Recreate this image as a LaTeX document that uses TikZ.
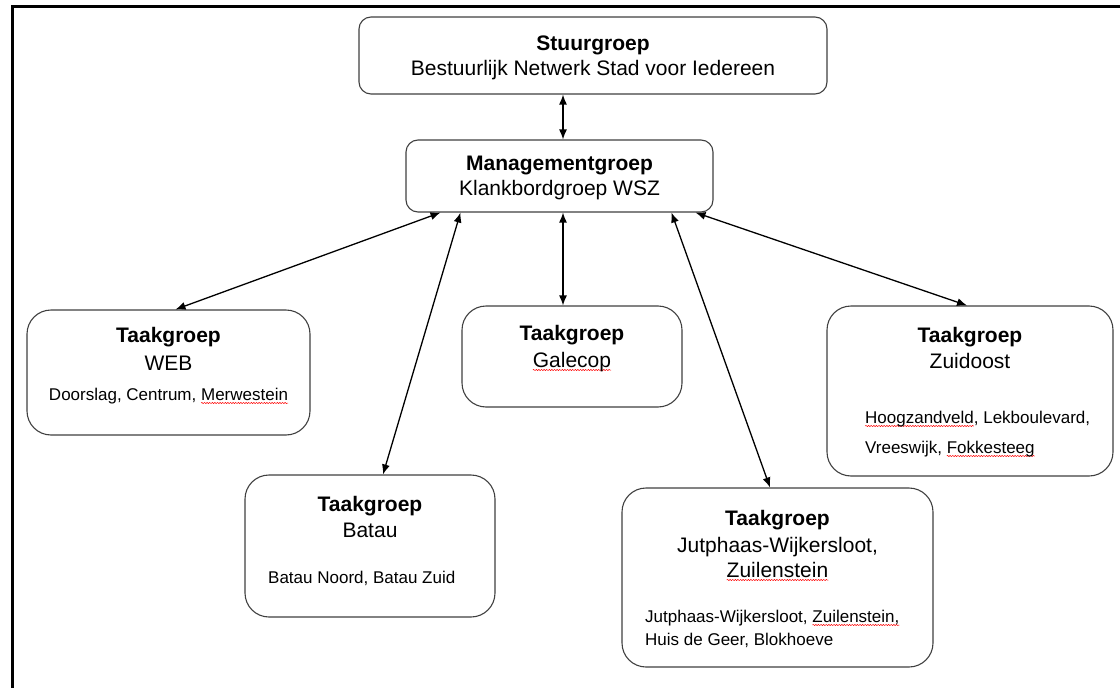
\documentclass[tikz,border=0pt]{standalone}
\usepackage{fontspec}
\setmainfont{Liberation Sans}
\usetikzlibrary{arrows.meta,decorations.pathmorphing}

% red spell-check squiggle under a word
\newsavebox\spellbox
\newlength\spellwd
\newcommand{\spell}[1]{\sbox\spellbox{#1}\setlength\spellwd{\wd\spellbox}%
  \rlap{\tikz[overlay]\draw[red, line width=0.5pt, decorate,
    decoration={snake, amplitude=0.6pt, segment length=2.6pt}] (0pt,-3pt) -- (\spellwd,-3pt);}%
  \usebox\spellbox}

\tikzset{
  box/.style={draw=black!75, line width=1.1pt, rounded corners=#1, fill=white},
  big/.style={font=\fontsize{21}{26}\selectfont, inner sep=0pt},
  head/.style={font=\fontsize{21}{26}\selectfont\bfseries, inner sep=0pt},
  small/.style={font=\fontsize{17}{20}\selectfont, inner sep=0pt},
  link/.style={{Latex[length=10pt,width=8pt]}-{Latex[length=10pt,width=8pt]}, line width=1.3pt},
}

\begin{document}
\begin{tikzpicture}[x=1pt, y=-1pt]
		\useasboundingbox (0,0) rectangle (1120,688);
		%%%%% frame %%%%%
		\draw[line width=2.8pt] (1120,6.5) -- (12.5,6.5) -- (12.5,688);
		
		%%%%% boxes %%%%%
		\node[box=12pt, minimum width=468pt, minimum height=77pt] (stuur) at (593,55.5) {};
		\node[box=12pt, minimum width=307pt, minimum height=72pt] (mgmt) at (559.5,176) {};
		\node[box=24pt, minimum width=283pt, minimum height=125pt] (web) at (168.5,372.5) {};
		\node[box=24pt, minimum width=220pt, minimum height=101pt] (galecop) at (572,356.5) {};
		\node[box=24pt, minimum width=286pt, minimum height=170pt] (zuid) at (970,391) {};
		\node[box=24pt, minimum width=250pt, minimum height=142pt] (batau) at (370,546) {};
		\node[box=24pt, minimum width=311pt, minimum height=179pt] (jut) at (777.5,577.5) {};
		
		%%%%% texts %%%%%
		\node[head, anchor=base] (stuur-a) at (593,50) {Stuurgroep};
		\node[big, anchor=base] (stuur-b) at (593,75) {Bestuurlijk Netwerk Stad voor Iedereen};
		
		\node[head, anchor=base] (mgmt-a) at (559.5,170) {Managementgroep};
		\node[big, anchor=base] (mgmt-b) at (559.5,195) {Klankbordgroep WSZ};
		
		\node[head, anchor=base] (web-a) at (168.5,342) {Taakgroep};
		\node[big, anchor=base] (web-b) at (168.5,370) {WEB};
		\node[small, anchor=base] (web-c) at (168.5,400) {Doorslag, Centrum, \spell{Merwestein}};
		
		\node[head, anchor=base] (galecop-a) at (572,340) {Taakgroep};
		\node[big, anchor=base] (galecop-b) at (572,367) {\spell{Galecop}};
		
		\node[head, anchor=base] (zuid-a) at (970,342) {Taakgroep};
		\node[big, anchor=base] (zuid-b) at (970,368) {Zuidoost};
		\node[small, anchor=base west] (zuid-c) at (865,423) {\spell{Hoogzandveld}, Lekboulevard,};
		\node[small, anchor=base west] (zuid-d) at (865,453) {Vreeswijk, \spell{Fokkesteeg}};
		
		\node[head, anchor=base] (batau-a) at (370,511) {Taakgroep};
		\node[big, anchor=base] (batau-b) at (370,537) {Batau};
		\node[small, anchor=base west] (batau-c) at (268,583) {Batau Noord, Batau Zuid};
		
		\node[head, anchor=base] (jut-a) at (777.5,525) {Taakgroep};
		\node[big, anchor=base] (jut-b) at (777.5,552) {Jutphaas-Wijkersloot,};
		\node[big, anchor=base] (jut-c) at (777.5,577) {\spell{Zuilenstein}};
		\node[small, anchor=base west] (jut-d) at (645,622) {Jutphaas-Wijkersloot, \spell{Zuilenstein,}};
		\node[small, anchor=base west] (jut-e) at (645,645) {Huis de Geer, Blokhoeve};
		
		%%%%% arrows %%%%%
		\draw[link] ([xshift=-30pt]stuur.south) -- ([xshift=3.5pt]mgmt.north);
		\draw[link] ([xshift=-119pt]mgmt.south) -- ([xshift=7pt]web.north);
		\draw[link] ([xshift=-99pt]mgmt.south) -- ([xshift=13pt]batau.north);
		\draw[link] ([xshift=3.5pt]mgmt.south) -- ([xshift=-9pt]galecop.north);
		\draw[link] ([xshift=112pt]mgmt.south) -- ([xshift=-7.5pt]jut.north);
		\draw[link] ([xshift=136pt]mgmt.south) -- ([xshift=-3pt]zuid.north);
	\end{tikzpicture}
\end{document}
